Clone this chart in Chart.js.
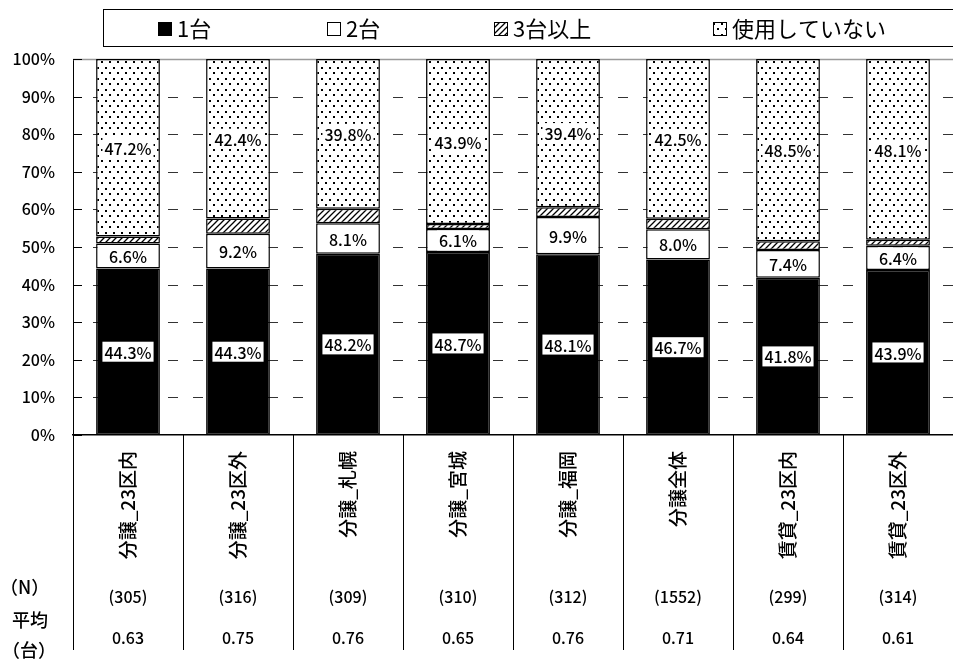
<!DOCTYPE html>
<html>
<head>
<meta charset="utf-8">
<script src="https://cdn.jsdelivr.net/npm/chart.js@4.4.1/dist/chart.umd.min.js"></script>
<style>
  html, body { margin: 0; padding: 0; background: #fff; }
  #wrap { width: 953px; height: 664px; }
</style>
</head>
<body>
<div id="wrap"><canvas id="barChart" width="953" height="664"></canvas></div>
<script>
// values (percent)
const categories = ['分譲_23区内', '分譲_23区外', '分譲_札幌', '分譲_宮城', '分譲_福岡', '分譲全体', '賃貸_23区内', '賃貸_23区外'];
const seriesNames = ['1台', '2台', '3台以上', '使用していない'];
const oneUnit = [44.3, 44.3, 48.2, 48.7, 48.1, 46.7, 41.8, 43.9];
const twoUnits = [6.6, 9.2, 8.1, 6.1, 9.9, 8.0, 7.4, 6.4];
const threePlus = [1.9, 4.1, 3.9, 1.3, 2.6, 2.8, 2.3, 1.6];
const notUsed = [47.2, 42.4, 39.8, 43.9, 39.4, 42.5, 48.5, 48.1];
const nCounts = ['(305)', '(316)', '(309)', '(310)', '(312)', '(1552)', '(299)', '(314)'];
const avgUnits = ['0.63', '0.75', '0.76', '0.65', '0.76', '0.71', '0.64', '0.61'];
const yTicks = [0, 10, 20, 30, 40, 50, 60, 70, 80, 90, 100];

const FONT = '"Noto Sans CJK JP", "Noto Sans", sans-serif';

// fill patterns
function dotPattern() {
    const c = document.createElement('canvas');
    c.width = 8; c.height = 11;
    const g = c.getContext('2d');
    g.fillStyle = '#fff'; g.fillRect(0, 0, 8, 11);
    g.fillStyle = '#000';
    g.fillRect(1, 1, 2, 2);
    g.fillRect(5, 6, 2, 2);
    return g.createPattern(c, 'repeat');
}
function hatchPattern() {
    const c = document.createElement('canvas');
    c.width = 6; c.height = 6;
    const g = c.getContext('2d');
    g.fillStyle = '#fff'; g.fillRect(0, 0, 6, 6);
    g.strokeStyle = '#000'; g.lineWidth = 1.3;
    g.beginPath();
    g.moveTo(-1, 1); g.lineTo(1, -1);
    g.moveTo(0, 6); g.lineTo(6, 0);
    g.moveTo(5, 7); g.lineTo(7, 5);
    g.stroke();
    return g.createPattern(c, 'repeat');
}
const fills = ['#000', '#fff', hatchPattern(), dotPattern()];

// grid: dashed lines, inner ticks, grey top line
const gridPlugin = {
    id: 'gridPlugin',
    beforeDatasetsDraw(chart) {
        const ctx = chart.ctx, y = chart.scales.y, a = chart.chartArea;
        ctx.save();
        yTicks.forEach(v => {
            const py = Math.round(y.getPixelForValue(v)) + 0.5;
            if (v === 100) {
                ctx.strokeStyle = '#9a9a9a'; ctx.lineWidth = 1.5; ctx.setLineDash([]);
                ctx.beginPath(); ctx.moveTo(a.left, py); ctx.lineTo(a.right, py); ctx.stroke();
            } else if (v > 0) {
                ctx.strokeStyle = '#333'; ctx.lineWidth = 1;
                ctx.setLineDash([10, 15]); ctx.lineDashOffset = 5;
                ctx.beginPath(); ctx.moveTo(a.left, py); ctx.lineTo(a.right, py); ctx.stroke();
            }
            ctx.setLineDash([]);
            ctx.strokeStyle = '#000'; ctx.lineWidth = 1;
            ctx.beginPath(); ctx.moveTo(a.left, py); ctx.lineTo(a.left + 9, py); ctx.stroke();
        });
        ctx.restore();
    }
};

// value labels on white boxes
const labelPlugin = {
    id: 'labelPlugin',
    afterDatasetsDraw(chart) {
        const ctx = chart.ctx;
        ctx.save();
        ctx.font = '500 16px ' + FONT;
        ctx.textAlign = 'center';
        ctx.textBaseline = 'middle';
        chart.data.datasets.forEach((ds, di) => {
            if (di === 2) return;
            chart.getDatasetMeta(di).data.forEach((bar, i) => {
                const txt = ds.data[i].toFixed(1) + '%';
                const cy = (bar.y + bar.base) / 2;
                const w = ctx.measureText(txt).width + 4;
                ctx.fillStyle = '#fff';
                ctx.fillRect(bar.x - w / 2, cy - 10, w, 20);
                ctx.fillStyle = '#000';
                ctx.fillText(txt, bar.x, cy + 1);
            });
        });
        ctx.restore();
    }
};

// legend box and the table under the axis
const framePlugin = {
    id: 'framePlugin',
    afterDraw(chart) {
        const ctx = chart.ctx, x = chart.scales.x, a = chart.chartArea;
        ctx.save();
        // legend
        ctx.strokeStyle = '#000'; ctx.lineWidth = 1;
        ctx.strokeRect(103.5, 9.5, 900, 37);
        const markX = [158, 327, 494, 713];
        ctx.font = '22px ' + FONT;
        ctx.textBaseline = 'middle';
        ctx.textAlign = 'left';
        seriesNames.forEach((name, i) => {
            ctx.fillStyle = fills[i];
            ctx.fillRect(markX[i], 22, 14, 14);
            ctx.strokeStyle = '#000';
            ctx.strokeRect(markX[i] + 0.5, 22.5, 13, 13);
            ctx.fillStyle = '#000';
            ctx.fillText(name, markX[i] + 19, 29);
        });
        // table separators
        const step = x.getPixelForValue(1) - x.getPixelForValue(0);
        ctx.strokeStyle = '#000'; ctx.lineWidth = 1;
        for (let i = 0; i <= categories.length; i++) {
            const px = Math.round(x.getPixelForValue(0) - step / 2 + i * step) + 0.5;
            ctx.beginPath(); ctx.moveTo(px, a.bottom); ctx.lineTo(px, 650); ctx.stroke();
        }
        ctx.fillStyle = '#000';
        ctx.textAlign = 'center';
        ctx.font = '500 16px ' + FONT;
        categories.forEach((c, i) => {
            const px = x.getPixelForValue(i);
            ctx.fillText(nCounts[i], px, 597);
            ctx.fillText(avgUnits[i], px, 638);
        });
        ctx.font = '500 18px ' + FONT;
        ctx.textAlign = 'left';
        ctx.fillText('（N）', 0, 587);
        ctx.fillText('平均', 12, 620);
        ctx.fillText('（台）', 2, 650);
        ctx.restore();
    }
};

const seriesData = [oneUnit, twoUnits, threePlus, notUsed];

const ctx = document.getElementById('barChart').getContext('2d');
const myChart = new Chart(ctx, {
    type: 'bar',
    data: {
        labels: categories,
        datasets: seriesNames.map((name, i) => ({
            label: name,
            data: seriesData[i],
            backgroundColor: fills[i],
            borderColor: '#000',
            borderWidth: 1.5,
            borderSkipped: false,
            barPercentage: 0.58,
            categoryPercentage: 1.0
        }))
    },
    options: {
        responsive: false,
        animation: false,
        layout: { padding: { top: 59, right: -10, left: 0, bottom: 0 } },
        plugins: {
            legend: { display: false },
            tooltip: { enabled: false }
        },
        scales: {
            x: {
                stacked: true,
                grid: { display: false, drawTicks: false },
                border: { display: true, color: '#000', width: 1.5 },
                ticks: {
                    color: '#000',
                    font: { family: FONT, size: 19, weight: '500' },
                    minRotation: 90,
                    maxRotation: 90,
                    autoSkip: false,
                    padding: 16
                },
                afterFit(scale) { scale.height = 229; }
            },
            y: {
                stacked: true,
                min: 0,
                max: 100,
                grid: { display: false, drawTicks: false },
                border: { display: true, color: '#000', width: 1 },
                ticks: {
                    stepSize: 10,
                    color: '#000',
                    font: { family: FONT, size: 16, weight: '500' },
                    padding: 18,
                    callback: v => v + '%'
                },
                afterFit(scale) { scale.width = 73; }
            }
        }
    },
    plugins: [gridPlugin, labelPlugin, framePlugin]
});
</script>
</body>
</html>
